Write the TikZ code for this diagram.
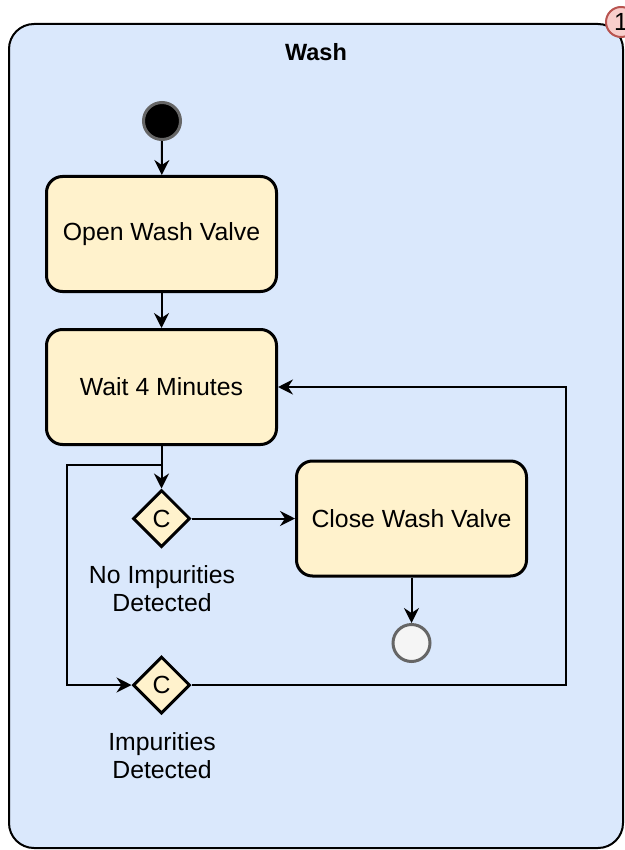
\documentclass[tikz,border=0pt]{standalone}
\usepackage{fontspec}
\setmainfont{Liberation Sans}
\usetikzlibrary{arrows.meta,shapes.geometric}
\definecolor{swimfill}{HTML}{DAE8FC}
\definecolor{actfill}{HTML}{FFF2CC}
\definecolor{badgefill}{HTML}{F8CECC}
\definecolor{badgeline}{HTML}{B85450}
\definecolor{greyline}{HTML}{666666}
\definecolor{endfill}{HTML}{F5F5F5}

\begin{document}
\begin{tikzpicture}[x=1pt,y=-1pt,
  every node/.style={font=\fontsize{24.8}{28}\selectfont},
  action/.style={draw, line width=3pt, fill=actfill, rounded corners=16pt,
    minimum width=230pt, minimum height=115pt, inner sep=0pt},
  choice/.style={diamond, draw, line width=3pt, fill=actfill,
    minimum width=57pt, minimum height=57pt, inner sep=0pt},
  initial/.style={circle, draw=greyline, line width=3pt, fill=black,
    minimum size=37pt, inner sep=0pt},
  final/.style={circle, draw=greyline, line width=3pt, fill=endfill,
    minimum size=37pt, inner sep=0pt},
  flow/.style={line width=2pt, -{Stealth[length=15pt,width=15pt,inset=5pt]}},
]
\useasboundingbox (0,0) rectangle (624,850);

% swimlane container and its badge
\draw[line width=2pt, fill=swimfill, rounded corners=25pt] (9,24) rectangle (623,848);
\node[circle, draw=badgeline, fill=badgefill, line width=2pt,
  minimum size=30pt, inner sep=0pt] (badge) at (621,22) {1};
\node[font=\bfseries\fontsize{23.5}{28}\selectfont] (title) at (316,52) {Wash};

% states
\node[initial] (start) at (162,121) {};
\node[action] (open) at (161.5,234) {Open Wash Valve};
\node[action] (wait) at (161.5,387) {Wait 4 Minutes};
\node[choice] (d1) at (161.5,518.5) {C};
\node[action] (close) at (411.5,518.5) {Close Wash Valve};
\node[final] (end) at (411.5,643) {};
\node[choice] (d2) at (161.5,685) {C};

% guard labels
\node[align=center] (lbl1) at (162,589) {No Impurities\\Detected};
\node[align=center] (lbl2) at (162,756) {Impurities\\Detected};

% bend points of the loop
\coordinate (jl) at (67,465);
\coordinate (jr) at (566,387);

% transitions
\draw[flow] (start) -- (open);
\draw[flow] (open) -- (wait);
\draw[flow] (wait) -- (d1);
\draw[flow] (d1) -- (close);
\draw[flow] (close) -- (end);
\draw[flow] (wait.south) |- (jl) |- (d2);
\draw[flow] (d2) -| (jr) -- (wait);
\end{tikzpicture}
\end{document}
